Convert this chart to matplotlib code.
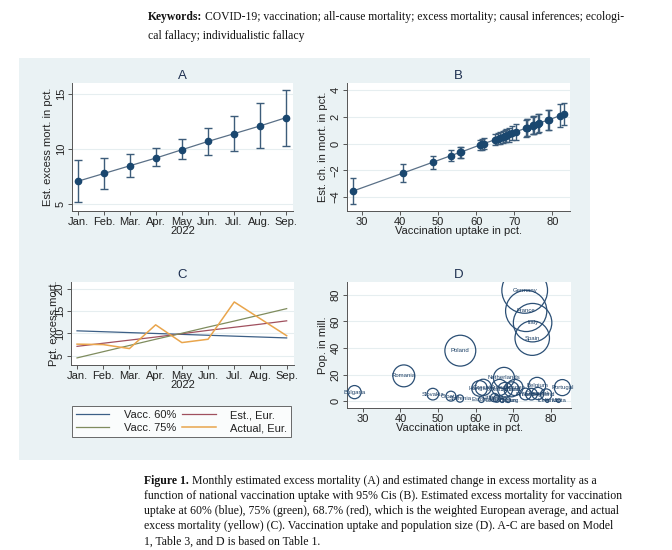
import matplotlib
matplotlib.use("Agg")
import matplotlib.pyplot as plt
from matplotlib.patches import Rectangle

plt.rcParams['font.family'] = ['Liberation Sans', 'DejaVu Sans']

# panel A / C: months
months = ["Jan.", "Feb.", "Mar.", "Apr.", "May", "Jun.", "Jul.", "Aug.", "Sep."]
est_mort = [7.1, 7.8, 8.5, 9.2, 9.95, 10.7, 11.4, 12.1, 12.85]
est_lo = [5.2, 6.4, 7.5, 8.5, 9.1, 9.5, 9.8, 10.1, 10.3]
est_hi = [9.0, 9.2, 9.6, 10.1, 10.9, 11.9, 13.0, 14.2, 15.4]

vacc60 = [10.6, 10.4, 10.2, 10.0, 9.8, 9.6, 9.4, 9.2, 9.0]
vacc75 = [4.5, 5.9, 7.3, 8.7, 10.05, 11.45, 12.8, 14.2, 15.6]
actual = [7.6, 7.5, 6.6, 11.95, 7.95, 8.7, 17.1, 13.3, 9.5]

# panel B / D: countries
countries = ["Bulgaria", "Romania", "Slovakia", "Croatia", "Slovenia", "Poland",
             "Hungary", "Estonia", "Czechia", "Lithuania", "Latvia", "Greece",
             "Luxembourg", "Netherlands", "Switzerland", "Cyprus", "Austria",
             "Sweden", "Germany", "Finland", "France", "Norway", "Spain", "Italy",
             "Belgium", "Denmark", "Ireland", "Iceland", "Malta", "Portugal"]
vacc = [27.8, 40.9, 48.6, 53.4, 55.8, 55.9, 61.0, 61.5, 62.0, 65.0, 65.6, 66.3,
        67.0, 67.5, 67.8, 68.6, 69.5, 70.4, 73.0, 73.2, 73.4, 74.8, 75.0, 75.1,
        76.3, 76.5, 78.7, 79.0, 82.0, 83.0]
pop = [6.9, 19.1, 5.4, 3.9, 2.1, 38.0, 9.7, 1.3, 10.5, 2.8, 1.9, 10.4,
       0.6, 17.6, 8.7, 0.9, 9.0, 10.4, 83.2, 5.5, 67.8, 5.4, 47.4, 59.0,
       11.6, 5.9, 5.1, 0.4, 0.5, 10.3]
chg = [-3.55, -2.2, -1.4, -0.9, -0.65, -0.65, -0.1, -0.05, 0.0, 0.3, 0.35, 0.45,
       0.5, 0.55, 0.6, 0.7, 0.8, 0.9, 1.15, 1.2, 1.2, 1.35, 1.4, 1.4,
       1.5, 1.55, 1.75, 1.78, 2.1, 2.2]
chg_lo = [-4.55, -2.85, -1.9, -1.3, -1.05, -1.05, -0.5, -0.45, -0.4, -0.1, -0.05, 0.0,
          0.05, 0.1, 0.1, 0.15, 0.25, 0.3, 0.5, 0.55, 0.55, 0.7, 0.72, 0.72,
          0.8, 0.85, 1.0, 1.02, 1.25, 1.4]
chg_hi = [-2.6, -1.55, -0.9, -0.45, -0.25, -0.25, 0.3, 0.35, 0.4, 0.75, 0.8, 0.9,
          0.95, 1.05, 1.1, 1.2, 1.35, 1.45, 1.8, 1.85, 1.85, 2.0, 2.05, 2.05,
          2.2, 2.25, 2.5, 2.52, 2.95, 3.05]

navy = "#1a476f"
bg = "#eaf2f4"
grid = "#e6eef0"
axcol = "#555555"
txtcol = "#222222"
fs = 8

fig = plt.figure(figsize=(6.72, 5.5), dpi=100)
fig.patch.set_facecolor("white")
fig.patches.append(Rectangle((19 / 672, 1 - 460 / 550), 571 / 672, 402 / 550,
                             transform=fig.transFigure, facecolor=bg,
                             edgecolor="none", zorder=-5))


def style(ax):
    ax.set_facecolor("white")
    for s in ["top", "right"]:
        ax.spines[s].set_visible(False)
    for s in ["left", "bottom"]:
        ax.spines[s].set_color(axcol)
        ax.spines[s].set_linewidth(0.7)
    ax.tick_params(colors=axcol, labelcolor=txtcol, labelsize=fs, length=3,
                   width=0.7, pad=1.5)
    ax.tick_params(axis="y", labelrotation=90)
    for t in ax.get_yticklabels():
        t.set_va("center")
    ax.yaxis.grid(True, color=grid, lw=0.8)
    ax.set_axisbelow(True)


def box(x0, y0, x1, y1):
    return [x0 / 672, 1 - y1 / 550, (x1 - x0) / 672, (y1 - y0) / 550]


x = list(range(1, 10))

# A
axA = fig.add_axes(box(72, 83, 293, 211))
axA.plot(x, est_mort, color="#5a7087", lw=0.9, zorder=2)
axA.errorbar(x, est_mort,
             yerr=[[m - l for m, l in zip(est_mort, est_lo)],
                   [h - m for m, h in zip(est_mort, est_hi)]],
             fmt="o", color=navy, ecolor="#3d5c7a", elinewidth=1.0, capsize=3,
             capthick=1.0, markersize=4.5, zorder=3)
axA.set_xlim(0.77, 9.28)
axA.set_ylim(4.4, 16)
axA.set_xticks(x)
axA.set_xticklabels(months)
axA.set_yticks([5, 10, 15])
axA.set_xlabel("2022", fontsize=fs, labelpad=-1, color=txtcol)
axA.set_ylabel("Est. excess mort. in pct.", fontsize=fs, labelpad=2, color=txtcol)
axA.set_title("A", fontsize=9.5, color="#1e3050", pad=3)
style(axA)

# B
axB = fig.add_axes(box(347, 83, 570, 211))
axB.plot(vacc, chg, color="#5a7087", lw=0.9, zorder=2)
axB.errorbar(vacc, chg,
             yerr=[[m - l for m, l in zip(chg, chg_lo)],
                   [h - m for m, h in zip(chg, chg_hi)]],
             fmt="o", color=navy, ecolor="#3d5c7a", elinewidth=1.0, capsize=2.5,
             capthick=1.0, markersize=4.5, zorder=3)
axB.set_xlim(26.1, 84.6)
axB.set_ylim(-5.06, 4.55)
axB.set_xticks([30, 40, 50, 60, 70, 80])
axB.set_yticks([-4, -2, 0, 2, 4])
axB.set_xlabel("Vaccination uptake in pct.", fontsize=fs, labelpad=-1, color=txtcol)
axB.set_ylabel("Est. ch. in mort. in pct.", fontsize=fs, labelpad=2, color=txtcol)
axB.set_title("B", fontsize=9.5, color="#1e3050", pad=3)
style(axB)

# C
axC = fig.add_axes(box(71, 282, 294, 365))
l1, = axC.plot(x, vacc60, color="#3c5f86", lw=0.9)
l2, = axC.plot(x, est_mort, color="#a0505e", lw=0.9)
l3, = axC.plot(x, vacc75, color="#7f8c5e", lw=0.9)
l4, = axC.plot(x, actual, color="#e9a54c", lw=1.1)
axC.set_xlim(0.77, 9.28)
axC.set_ylim(2.9, 21.6)
axC.set_xticks(x)
axC.set_xticklabels(months)
axC.set_yticks([5, 10, 15, 20])
axC.set_xlabel("2022", fontsize=fs, labelpad=-1, color=txtcol)
axC.set_ylabel("Pct. excess mort.", fontsize=fs, labelpad=-3, color=txtcol)
axC.set_title("C", fontsize=9.5, color="#1e3050", pad=3)
style(axC)

leg = fig.legend([l1, l3, l2, l4],
                 ["Vacc. 60%", "Vacc. 75%", "Est., Eur.", "Actual, Eur."],
                 ncol=2, loc="lower left", mode="expand",
                 bbox_to_anchor=(72 / 672, 1 - 437 / 550, 219 / 672, 37 / 550),
                 fontsize=fs, frameon=True, fancybox=False, handlelength=3.0,
                 borderaxespad=0, columnspacing=1.2, handletextpad=1.3,
                 labelspacing=0.25, borderpad=0.35)
leg.get_frame().set_edgecolor("#444444")
leg.get_frame().set_linewidth(0.7)
for t in leg.get_texts():
    t.set_color(txtcol)

# D
axD = fig.add_axes(box(347, 282, 571, 408))
axD.scatter(vacc, pop, s=[p * 13 for p in pop], facecolors="none",
            edgecolors="#2b4f75", linewidths=0.9, zorder=3)
for name, vx, py in zip(countries, vacc, pop):
    axD.text(vx, py, name, fontsize=4.3, color="#1f4268", ha="center",
             va="center", zorder=4)
axD.set_xlim(25.8, 85.3)
axD.set_ylim(-5, 89.5)
axD.set_xticks([30, 40, 50, 60, 70, 80])
axD.set_yticks([0, 20, 40, 60, 80])
axD.set_xlabel("Vaccination uptake in pct.", fontsize=fs, labelpad=-1, color=txtcol)
axD.set_ylabel("Pop. in mill.", fontsize=fs, labelpad=2, color=txtcol)
axD.set_title("D", fontsize=9.5, color="#1e3050", pad=3)
style(axD)

# page text
serif = ["Liberation Serif", "DejaVu Serif"]
fig.text(148 / 672, 1 - 17 / 550, "Keywords:", fontsize=8.4, fontweight="bold",
         family=serif, va="center", color="#111111")
fig.text(205 / 672, 1 - 17 / 550,
         "COVID-19; vaccination; all-cause mortality; excess mortality; causal inferences; ecologi-",
         fontsize=8.4, family=serif, va="center", color="#111111")
fig.text(148 / 672, 1 - 36 / 550, "cal fallacy; individualistic fallacy",
         fontsize=8.4, family=serif, va="center", color="#111111")

cap = ["Monthly estimated excess mortality (A) and estimated change in excess mortality as a",
       "function of national vaccination uptake with 95% Cis (B). Estimated excess mortality for vaccination",
       "uptake at 60% (blue), 75% (green), 68.7% (red), which is the weighted European average, and actual",
       "excess mortality (yellow) (C). Vaccination uptake and population size (D). A-C are based on Model",
       "1, Table 3, and D is based on Table 1."]
cap_y = [481, 496, 511, 526, 542]
fig.text(144 / 672, 1 - cap_y[0] / 550, "Figure 1.", fontsize=8.5, fontweight="bold",
         family=serif, va="center", color="#111111")
fig.text(192 / 672, 1 - cap_y[0] / 550, cap[0], fontsize=8.5, family=serif,
         va="center", color="#111111")
for line, yy in zip(cap[1:], cap_y[1:]):
    fig.text(144 / 672, 1 - yy / 550, line, fontsize=8.5, family=serif,
             va="center", color="#111111")

fig.savefig("out.png", dpi=100)
